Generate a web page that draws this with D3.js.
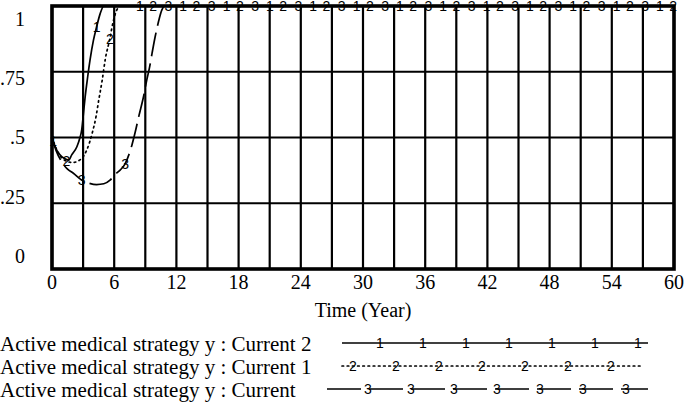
<!DOCTYPE html>
<html>
<head>
<meta charset="utf-8">
<script src="https://cdn.jsdelivr.net/npm/d3@7"></script>
<style>
  body { margin: 0; background: #fff; }
  text { fill: #000; }
</style>
</head>
<body>
<div id="container"></div>
<script>
/* CONSTANTS AND GLOBALS */
const width = 685,
  height = 403,
  margin = {top: 6, left: 52, bottom: 134, right: 11};

// DATA
const xTicks = [0, 6, 12, 18, 24, 30, 36, 42, 48, 54, 60];
const xGrid = [0, 3, 6, 9, 12, 15, 18, 21, 24, 27, 30, 33, 36, 39, 42, 45, 48, 51, 54, 57, 60];
const yTicks = [0, 0.25, 0.5, 0.75, 1];
const yTickLabels = ["0", ".25", ".5", ".75", "1"];

const seriesNames = [
  "Active medical strategy y : Current 2",
  "Active medical strategy y : Current 1",
  "Active medical strategy y : Current"
];

// Current 2 (solid, marker 1)
const current2Time  = [0, 0.3, 0.7, 1.2, 1.6, 1.9, 2.4, 2.7, 2.87, 3.03, 3.2, 3.44, 3.67, 4.0, 4.3, 4.64, 5.0, 60];
const current2Value = [0.5, 0.465, 0.437, 0.42, 0.414, 0.434, 0.465, 0.5, 0.53, 0.59, 0.655, 0.73, 0.795, 0.87, 0.92, 0.97, 1, 1];

// Current 1 (dotted, marker 2)
const current1Time  = [0, 0.5, 1.0, 1.4, 2.0, 2.7, 3.35, 3.9, 4.25, 4.5, 4.85, 5.15, 5.55, 5.9, 6.2, 6.6, 60];
const current1Value = [0.5, 0.45, 0.42, 0.41, 0.405, 0.415, 0.452, 0.52, 0.58, 0.64, 0.72, 0.8, 0.87, 0.94, 0.98, 1, 1];

// Current (dashed, marker 3)
const currentTime  = [0, 0.4, 0.9, 1.5, 2.06, 2.87, 3.6, 4.3, 5.0, 5.6, 6.1, 6.57, 7.05, 7.7, 8.0, 8.4, 8.8, 9.15, 9.4, 9.65, 9.95, 10.27, 10.6, 10.9, 60];
const currentValue = [0.5, 0.45, 0.41, 0.38, 0.364, 0.338, 0.326, 0.321, 0.324, 0.338, 0.36, 0.376, 0.4, 0.47, 0.516, 0.585, 0.65, 0.72, 0.765, 0.82, 0.883, 0.94, 0.985, 1, 1];

const seriesTimes = [current2Time, current1Time, currentTime];
const seriesValues = [current2Value, current1Value, currentValue];
const markerLabels = ["1", "2", "3"];

// STYLE
const dashes = [null, "1.6,3.6", "24,7"];
const markerStart = [0.12, 1.4, 2.87];   // first marker (years)
const markerStep = 4.18;                  // marker spacing (years)
const serif = "'Liberation Serif', 'Times New Roman', serif";
const sans = "'Liberation Sans', Arial, sans-serif";

const plotBottom = height - margin.bottom;
const plotRight = width - margin.right;

// SCALES
const xScale = d3.scaleLinear()
  .domain([0, 60])
  .range([margin.left, plotRight]);

const yScale = d3.scaleLinear()
  .domain([0, 1])
  .range([plotBottom, margin.top]);

// y labels are spread a bit inside the frame
const yLabelScale = d3.scaleLinear()
  .domain([0, 1])
  .range([plotBottom - 13, margin.top + 13.5]);

// CREATE SVG ELEMENT
const svg = d3.select("#container")
  .append("svg")
  .attr("width", width)
  .attr("height", height)
  .style("display", "block");

// GRID
svg.append("g")
  .selectAll("line")
  .data(xGrid)
  .join("line")
  .attr("x1", d => xScale(d))
  .attr("x2", d => xScale(d))
  .attr("y1", margin.top)
  .attr("y2", plotBottom)
  .attr("stroke", "black")
  .attr("stroke-width", 2.2);

svg.append("g")
  .selectAll("line")
  .data(yTicks)
  .join("line")
  .attr("x1", margin.left)
  .attr("x2", plotRight)
  .attr("y1", d => yScale(d))
  .attr("y2", d => yScale(d))
  .attr("stroke", "black")
  .attr("stroke-width", 2.2);

// FRAME
svg.append("rect")
  .attr("x", margin.left)
  .attr("y", margin.top)
  .attr("width", plotRight - margin.left)
  .attr("height", plotBottom - margin.top)
  .attr("fill", "none")
  .attr("stroke", "black")
  .attr("stroke-width", 3.6);

// AXIS LABELS
svg.append("g")
  .selectAll("text")
  .data(xTicks)
  .join("text")
  .attr("x", d => xScale(d))
  .attr("y", 289)
  .attr("text-anchor", "middle")
  .style("font-family", serif)
  .style("font-size", "20px")
  .text(d => d);

svg.append("g")
  .selectAll("text")
  .data(yTicks)
  .join("text")
  .attr("x", 25)
  .attr("y", d => yLabelScale(d) + 6.7)
  .attr("text-anchor", "end")
  .style("font-family", serif)
  .style("font-size", "20px")
  .text((d, i) => yTickLabels[i]);

svg.append("text")
  .attr("x", xScale(30))
  .attr("y", 316.5)
  .attr("text-anchor", "middle")
  .style("font-family", serif)
  .style("font-size", "20px")
  .text("Time (Year)");

// LINES
const lineGen = d3.line()
  .x(d => xScale(d[0]))
  .y(d => yScale(d[1]))
  .curve(d3.curveMonotoneX);

seriesTimes.forEach((times, i) => {
  const pts = times.map((t, j) => [t, seriesValues[i][j]]);
  svg.append("path")
    .attr("d", lineGen(pts))
    .attr("fill", "none")
    .attr("stroke", "black")
    .attr("stroke-width", 1.7)
    .attr("stroke-dasharray", dashes[i])
    .attr("stroke-linecap", i === 1 ? "round" : "butt");

  // markers placed along the series
  const along = d3.scaleLinear().domain(times).range(seriesValues[i]);
  const marks = d3.range(markerStart[i], 60.01, markerStep);
  svg.append("g")
    .selectAll("text")
    .data(marks)
    .join("text")
    .attr("x", d => xScale(d))
    .attr("y", d => yScale(along(d)))
    .attr("dy", "0.36em")
    .attr("text-anchor", "middle")
    .style("font-family", sans)
    .style("font-size", "14px")
    .text(markerLabels[i]);
});

// LEGEND
const legendBase = [350.5, 373.5, 396.5];
const legendX0 = [342, 342, 327];
const legendX1 = [648, 643, 648];
const legendMark0 = [380, 353, 368];
const legendMarkStep = 43;

seriesNames.forEach((name, i) => {
  const g = svg.append("g");
  g.append("text")
    .attr("x", 0)
    .attr("y", legendBase[i])
    .style("font-family", serif)
    .style("font-size", "21px")
    .text(name);
  const ly = legendBase[i] - 7.5;
  g.append("line")
    .attr("x1", legendX0[i])
    .attr("x2", legendX1[i])
    .attr("y1", ly)
    .attr("y2", ly)
    .attr("stroke", "black")
    .attr("stroke-width", 1.7)
    .attr("stroke-dasharray", i === 2 ? "34,8" : dashes[i])
    .attr("stroke-linecap", i === 1 ? "round" : "butt");
  g.selectAll(".lm")
    .data(d3.range(7))
    .join("text")
    .attr("class", "lm")
    .attr("x", k => legendMark0[i] + k * legendMarkStep)
    .attr("y", ly)
    .attr("dy", "0.36em")
    .attr("text-anchor", "middle")
    .style("font-family", sans)
    .style("font-size", "14px")
    .text(markerLabels[i]);
});
</script>
</body>
</html>
